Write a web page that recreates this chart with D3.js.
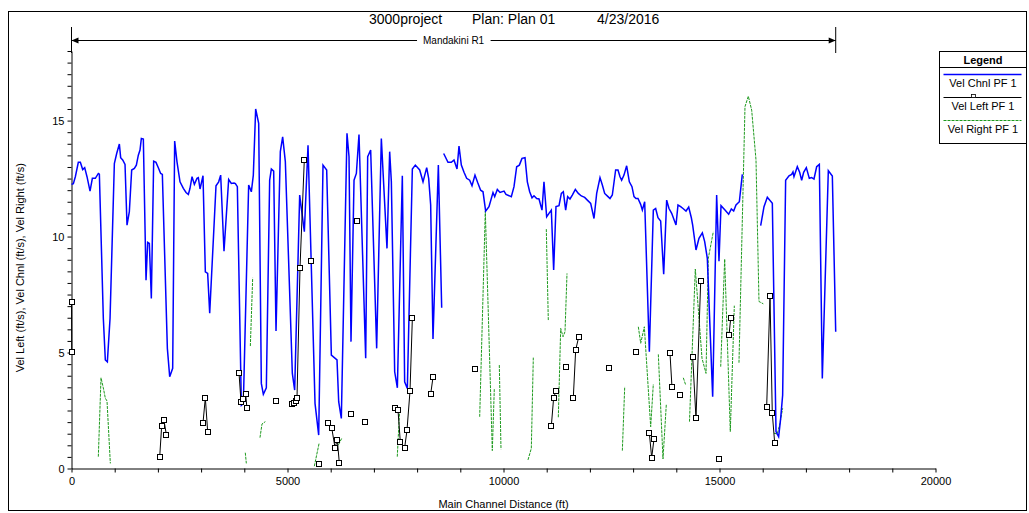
<!DOCTYPE html>
<html>
<head>
<meta charset="utf-8">
<script src="https://d3js.org/d3.v7.min.js"></script>
<style>
  body { margin: 0; background: #fff; }
  text { font-family: "Liberation Sans", Arial, sans-serif; fill: #000; }
</style>
</head>
<body>
<div id="chart"></div>
<script>
// Channel velocity (blue), null = gap
const chnlDist = [0,43,89,158,205,259,305,359,429,483,552,621,645,737,783,830,892,992,1046,1108,1138,1185,1239,1285,1339,1393,1455,1501,1547,1586,1617,1663,1725,1763,1802,1848,1902,1956,2010,2064,2103,2219,2273,2342,2388,2442,2512,2589,2651,2705,2743,2790,2844,2905,2936,2975,3044,3098,3152,3199,3345,3407,3453,3530,3638,3700,3762,3793,3839,3932,3978,4101,4163,4209,4263,4333,4394,4441,4510,4587,4626,4680,4734,4834,4888,4950,5112,5166,5282,5390,5475,5637,5722,5822,5907,6015,6146,6185,6246,6377,6424,6470,6540,6594,6655,6810,6856,6925,7064,7172,7303,7365,7404,7481,7543,7658,7712,7774,7890,7959,8060,8137,8222,8268,8314,8368,8492,8569,null,8615,8715,8792,8854,8924,8970,9024,9086,9147,9217,9271,9340,9402,9471,9526,9587,9664,9757,9796,9857,9919,10012,10058,10181,10243,10305,10367,10428,10498,10552,10606,10660,10706,10768,10822,10891,10937,10999,11053,11107,11161,11215,11285,11339,11385,11439,11485,11539,11593,11663,11732,11802,11879,11941,12018,12095,12157,12234,12288,12342,12419,12465,12519,12596,12650,12697,12735,12789,12851,12913,12974,13021,13067,13113,13175,13214,13268,13376,13468,13522,13576,13638,13708,13777,13831,13893,13993,14039,14101,14155,14225,14287,14348,14379,14456,14525,14603,14657,14718,14842,14934,14988,15035,15127,15212,15274,15328,15382,15459,15528,null,15953,16030,16107,16223,16308,16369,16416,16462,16531,16609,16670,16701,16724,16801,16855,16902,16948,17010,17079,17133,17187,17249,17311,17380,17519,17612,17690];
const chnlVel = [12.25,12.28,12.58,13.2,13.2,12.89,12.97,12.58,11.96,12.51,12.51,12.72,12.69,6.47,4.68,4.6,6.47,13.15,13.58,13.99,13.4,13.3,13.11,10.49,11.07,12.87,12.94,13.08,13.51,13.73,14.23,14.2,8.12,9.75,9.7,7.33,13.25,13.2,12.97,12.72,12.68,5.18,3.96,4.32,14.12,13.22,12.36,12.08,11.9,11.82,12.08,12.58,12.25,12.51,12.54,12.05,12.62,8.48,8.41,6.69,12.19,12.36,12.65,9.37,12.46,12.29,12.31,12.28,12.15,2.73,2.81,12.22,11.93,12.65,15.5,14.88,3.67,3.2,3.48,12.43,12.91,12.82,5.93,13.66,14.3,13.23,4.1,3.38,11.79,10.21,13.94,2.81,1.44,13.08,12.87,4.89,4.68,2.88,2.16,14.45,13.44,5.47,12.43,12.72,14.4,4.75,13.44,13.73,5.18,14.23,9.49,13.66,12.36,4.17,3.48,12.62,3.74,3.45,12.91,13.08,12.87,12.36,12.97,12.51,11.36,5.58,13.08,6.93,null,13.58,13.2,13.2,13.3,12.91,13.9,13.08,12.77,12.51,12.43,12.19,12.65,12.33,12.0,11.93,11.1,11.29,11.9,11.72,12.03,11.9,11.96,11.82,11.72,12.15,13.01,13.08,13.37,13.4,12.36,11.93,11.67,11.76,11.64,11.62,11.14,12.36,10.85,11.0,11.14,8.56,11.29,11.33,11.86,11.93,11.14,11.72,11.62,11.79,12.03,11.86,11.75,11.69,11.57,11.43,10.78,11.86,12.54,12.22,11.86,11.72,11.64,11.79,12.87,12.87,12.58,12.43,12.65,13.05,12.36,12.15,11.72,11.64,11.64,11.39,11.14,11.5,5.03,11.14,11.21,10.81,10.67,8.38,11.57,11.21,11.0,10.5,11.36,11.29,11.21,11.1,11.27,10.81,10.49,9.42,9.92,10.16,9.78,9.06,3.09,11.79,8.94,11.33,11.14,10.96,11.19,11.1,11.36,11.5,12.68,null,10.47,11.29,11.69,11.43,1.59,1.37,2.16,3.17,12.43,12.62,12.68,12.79,12.58,13.01,12.77,12.43,12.77,12.97,12.51,12.54,12.48,13.01,13.11,3.88,12.84,12.61,5.9];

// Left overbank velocity (black squares), null = gap
const leftDist = [0,5,null,2041,2087,2141,2196,null,3044,3098,3152,null,3877,3924,3977,4032,4062,null,4734,null,5111,5157,5190,5220,5289,5389,null,5544,null,5718,null,5945,6023,6100,6153,6199,null,6474,null,6601,null,6805,null,7481,7558,7612,7712,7766,7836,7890,null,8314,8368,null,9348,null,11107,11161,11215,null,11439,null,11616,11671,11741,null,12449,null,13074,null,13375,13430,13484,null,13854,13900,null,14082,null,14379,14456,14565,null,14988,null,15220,15259,null,16092,16169,16222,16278];
const leftVel = [7.16,5.01,null,0.48,1.83,2.07,1.46,null,1.97,3.05,1.59,null,4.13,2.86,2.98,3.2,2.59,null,2.91,null,2.78,2.81,2.9,3.05,8.63,13.3,null,8.96,null,0.19,null,1.95,1.76,0.9,1.23,0.25,null,2.35,null,10.68,null,2.02,null,2.62,2.52,1.13,0.9,1.65,3.34,6.47,null,3.2,3.93,null,4.28,null,1.83,3.05,3.34,null,4.36,null,3.05,5.11,5.67,null,4.32,null,5.01,null,1.54,0.47,1.27,null,4.97,3.51,null,3.18,null,4.82,2.16,8.09,null,0.42,null,5.75,6.47,null,2.66,7.45,2.38,1.09];

// Right overbank velocity (green), null = gap
const rightDist = [621,683,736,783,822,899,null,4023,4047,null,4140,4194,null,4363,4410,4487,null,5621,5733,null,6138,6255,null,7541,7597,null,9449,9579,9741,9787,null,9903,9942,null,10567,10644,10690,null,10991,11037,null,11269,11324,11378,11424,11470,null,12751,12806,null,13121,13176,13260,13407,13468,null,13584,13692,13769,null,14162,14218,null,14305,14440,14595,14688,14741,14857,null,15028,15120,15250,15343,null,15451,15590,15667,15745,15845,15914,16014,null,16262,16338,16400,16462];
const rightVel = [0.51,3.91,3.48,3.03,2.91,0.22,null,0.68,0.22,null,5.28,8.22,null,1.33,1.92,2.02,null,0.1,1.1,null,0.87,1.3,null,0.51,2.55,null,2.23,11.1,0.77,3.43,null,4.46,0.83,null,0.37,0.87,4.78,null,10.32,6.4,null,2.21,6.04,5.68,5.9,8.41,null,0.77,3.53,null,6.11,5.4,6.11,1.8,3.64,null,4.92,0.41,2.77,null,3.91,3.6,null,2.02,8.6,4.75,4.1,9.06,10.21,null,4.39,9.03,1.59,7.02,null,4.56,15.6,16.05,15.45,13.3,7.2,7.1,null,1.52,1.49,1.95,2.6];

const xTicks = [0, 5000, 10000, 15000, 20000];
const yTicks = [0, 5, 10, 15];
const reachName = "Mandakini R1";
const reachStart = 0, reachEnd = 17690;
const titleParts = ["3000project", "Plan: Plan 01", "4/23/2016"];
const legendNames = ["Vel Chnl PF 1", "Vel Left PF 1", "Vel Right PF 1"];

const W = 1029, H = 513;
const svg = d3.select("#chart").append("svg")
    .attr("width", W).attr("height", H);

// outer frame
svg.append("rect")
    .attr("x", 8.5).attr("y", 11.5)
    .attr("width", 1018).attr("height", 499)
    .attr("fill", "none").attr("stroke", "#000");

const x = d3.scaleLinear().domain([0, 20000]).range([71.5, 935.5]);
const y = d3.scaleLinear().domain([0, 18]).range([468.5, 51]);

// axes
const xAxis = d3.axisBottom(x)
    .tickValues(d3.range(0, 20001, 1000))
    .tickFormat(d => xTicks.includes(d) ? d : "")
    .tickSize(4).tickSizeOuter(0);
const gx = svg.append("g").attr("transform", `translate(0,${y(0)})`).call(xAxis);
gx.selectAll("text").attr("font-size", 11).attr("dy", "0.9em");

const yAxis = d3.axisLeft(y)
    .tickValues(d3.range(0, 18.01, 0.5))
    .tickFormat(d => yTicks.includes(d) ? d : "")
    .tickSize(4).tickSizeOuter(0);
const gy = svg.append("g").attr("transform", `translate(${x(0)},0)`).call(yAxis);
gy.selectAll("text").attr("font-size", 11).attr("x", -7);

svg.selectAll(".domain, .tick line").attr("stroke", "#000");

// titles
[369, 472, 597].forEach((tx, i) => {
    svg.append("text")
        .attr("x", tx).attr("y", 24)
        .attr("font-size", 14)
        .text(titleParts[i]);
});

svg.append("text")
    .attr("x", (x(0) + x(20000)) / 2).attr("y", 508)
    .attr("text-anchor", "middle").attr("font-size", 11)
    .text("Main Channel Distance (ft)");

svg.append("text")
    .attr("transform", `translate(24,${(y(0) + y(18)) / 2 + 8}) rotate(-90)`)
    .attr("text-anchor", "middle").attr("font-size", 11)
    .text("Vel Left (ft/s), Vel Chnl (ft/s), Vel Right (ft/s)");

// reach arrow
const ax0 = x(reachStart), ax1 = x(reachEnd), ay = 40.5;
svg.append("line").attr("x1", ax0).attr("x2", ax1).attr("y1", ay).attr("y2", ay).attr("stroke", "#000");
[ax0, ax1].forEach(px => {
    svg.append("line").attr("x1", px).attr("x2", px).attr("y1", 27).attr("y2", 53).attr("stroke", "#000");
});
svg.append("path").attr("d", `M${ax0},${ay} l7,-3 v6 z`).attr("fill", "#000");
svg.append("path").attr("d", `M${ax1},${ay} l-7,-3 v6 z`).attr("fill", "#000");
const lbl = svg.append("text")
    .attr("x", (ax0 + ax1) / 2).attr("y", ay + 3.5)
    .attr("text-anchor", "middle").attr("font-size", 10)
    .text(reachName);
const bb = lbl.node().getBBox();
svg.append("rect")
    .attr("x", bb.x - 6).attr("y", bb.y).attr("width", bb.width + 12).attr("height", bb.height)
    .attr("fill", "#fff");
lbl.raise();

// series
const zip = (a, b) => a.map((d, i) => d === null ? null : [d, b[i]]);
const chnl = zip(chnlDist, chnlVel);
const left = zip(leftDist, leftVel);
const right = zip(rightDist, rightVel);

const line = d3.line()
    .defined(d => d !== null)
    .x(d => x(d[0])).y(d => y(d[1]));

svg.append("path").datum(right)
    .attr("d", line).attr("fill", "none")
    .attr("stroke", "#1e9a1e").attr("stroke-width", 1)
    .attr("stroke-dasharray", "3,1");

svg.append("path").datum(chnl)
    .attr("d", line).attr("fill", "none")
    .attr("stroke", "#0000ff").attr("stroke-width", 1.5);

svg.append("path").datum(left)
    .attr("d", line).attr("fill", "none")
    .attr("stroke", "#000").attr("stroke-width", 1);

svg.selectAll(".sq").data(left.filter(d => d !== null))
    .join("rect")
    .attr("x", d => Math.round(x(d[0])) - 2.5)
    .attr("y", d => Math.round(y(d[1])) - 2.5)
    .attr("width", 5).attr("height", 5)
    .attr("fill", "#fff").attr("stroke", "#000").attr("stroke-width", 1);

// legend
const lg = svg.append("g").attr("transform", "translate(939.5,51.5)");
lg.append("rect").attr("width", 87).attr("height", 92).attr("fill", "#fff").attr("stroke", "#000");
lg.append("line").attr("x1", 0).attr("x2", 87).attr("y1", 16).attr("y2", 16).attr("stroke", "#000");
lg.append("text").attr("x", 43.5).attr("y", 12).attr("text-anchor", "middle")
    .attr("font-size", 11).attr("font-weight", "bold").text("Legend");
const lgStyles = [
    { stroke: "#0000ff", width: 1.5, dash: null },
    { stroke: "#000", width: 1, dash: null },
    { stroke: "#1e9a1e", width: 1, dash: "3,1" }
];
legendNames.forEach((name, i) => {
    const ly = 23 + i * 23;
    lg.append("line").attr("x1", 4).attr("x2", 82).attr("y1", ly).attr("y2", ly)
        .attr("stroke", lgStyles[i].stroke).attr("stroke-width", lgStyles[i].width)
        .attr("stroke-dasharray", lgStyles[i].dash);
    if (i === 1) {
        lg.append("rect").attr("x", 32).attr("y", ly - 3).attr("width", 4).attr("height", 3)
            .attr("fill", "#fff").attr("stroke", "#000").attr("stroke-width", 0.8);
    }
    lg.append("text").attr("x", 43.5).attr("y", ly + 12.5).attr("text-anchor", "middle")
        .attr("font-size", 11).text(name);
});
</script>
</body>
</html>
